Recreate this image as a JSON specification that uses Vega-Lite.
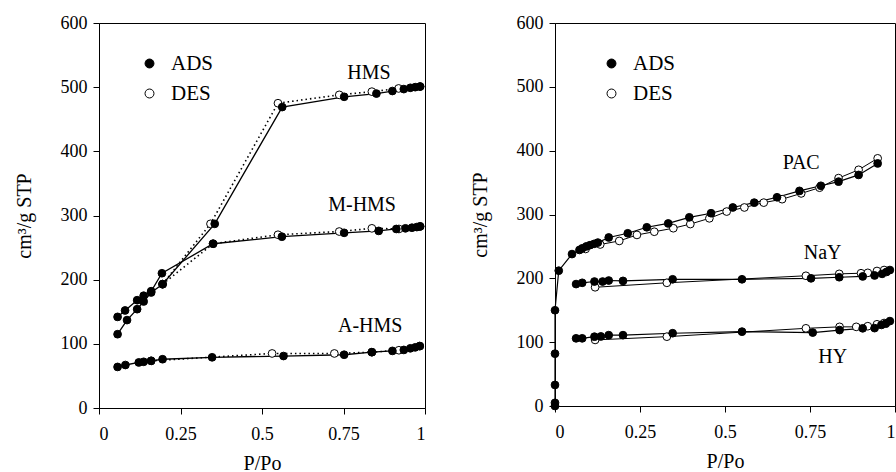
{
  "$schema": "https://vega.github.io/schema/vega-lite/v6.json",
  "background": "white",
  "padding": {"left": 13, "top": 13, "right": 0, "bottom": 0},
  "config": {
    "view": {"stroke": "black", "strokeWidth": 1},
    "axis": {
      "domainColor": "black", "tickColor": "black", "labelColor": "black", "titleColor": "black",
      "grid": false, "tickSize": 6, "labelFontSize": 18, "titleFontSize": 20, "titleFontWeight": "normal"
    },
    "legend": {
      "orient": "none", "legendY": 30, "padding": 0, "rowPadding": 8,
      "labelFontSize": 21, "labelColor": "black", "labelOffset": 11,
      "symbolStrokeColor": "black", "symbolStrokeWidth": 1, "symbolSize": 80, "symbolOpacity": 1, "symbolType": "circle"
    }
  },
  "datasets": {
    "left": [
      {"sample": "HMS", "run": "ADS", "P": 0.057, "V": 115}, {"sample": "HMS", "run": "ADS", "P": 0.086, "V": 137},
      {"sample": "HMS", "run": "ADS", "P": 0.117, "V": 154}, {"sample": "HMS", "run": "ADS", "P": 0.137, "V": 166},
      {"sample": "HMS", "run": "ADS", "P": 0.16, "V": 180}, {"sample": "HMS", "run": "ADS", "P": 0.195, "V": 193},
      {"sample": "HMS", "run": "ADS", "P": 0.355, "V": 287}, {"sample": "HMS", "run": "ADS", "P": 0.562, "V": 469},
      {"sample": "HMS", "run": "ADS", "P": 0.752, "V": 485}, {"sample": "HMS", "run": "ADS", "P": 0.851, "V": 490},
      {"sample": "HMS", "run": "ADS", "P": 0.9, "V": 494}, {"sample": "HMS", "run": "ADS", "P": 0.935, "V": 497},
      {"sample": "HMS", "run": "ADS", "P": 0.955, "V": 499}, {"sample": "HMS", "run": "ADS", "P": 0.97, "V": 500},
      {"sample": "HMS", "run": "ADS", "P": 0.985, "V": 501},
      {"sample": "M-HMS", "run": "ADS", "P": 0.057, "V": 142}, {"sample": "M-HMS", "run": "ADS", "P": 0.08, "V": 152},
      {"sample": "M-HMS", "run": "ADS", "P": 0.117, "V": 168}, {"sample": "M-HMS", "run": "ADS", "P": 0.137, "V": 175},
      {"sample": "M-HMS", "run": "ADS", "P": 0.16, "V": 182}, {"sample": "M-HMS", "run": "ADS", "P": 0.193, "V": 210},
      {"sample": "M-HMS", "run": "ADS", "P": 0.35, "V": 256}, {"sample": "M-HMS", "run": "ADS", "P": 0.561, "V": 267},
      {"sample": "M-HMS", "run": "ADS", "P": 0.752, "V": 273}, {"sample": "M-HMS", "run": "ADS", "P": 0.858, "V": 276},
      {"sample": "M-HMS", "run": "ADS", "P": 0.912, "V": 279}, {"sample": "M-HMS", "run": "ADS", "P": 0.94, "V": 280},
      {"sample": "M-HMS", "run": "ADS", "P": 0.96, "V": 281}, {"sample": "M-HMS", "run": "ADS", "P": 0.975, "V": 282},
      {"sample": "M-HMS", "run": "ADS", "P": 0.985, "V": 283},
      {"sample": "A-HMS", "run": "ADS", "P": 0.057, "V": 64}, {"sample": "A-HMS", "run": "ADS", "P": 0.081, "V": 67},
      {"sample": "A-HMS", "run": "ADS", "P": 0.122, "V": 71}, {"sample": "A-HMS", "run": "ADS", "P": 0.137, "V": 72},
      {"sample": "A-HMS", "run": "ADS", "P": 0.16, "V": 73.5}, {"sample": "A-HMS", "run": "ADS", "P": 0.195, "V": 76},
      {"sample": "A-HMS", "run": "ADS", "P": 0.347, "V": 79}, {"sample": "A-HMS", "run": "ADS", "P": 0.566, "V": 81},
      {"sample": "A-HMS", "run": "ADS", "P": 0.752, "V": 83}, {"sample": "A-HMS", "run": "ADS", "P": 0.837, "V": 87},
      {"sample": "A-HMS", "run": "ADS", "P": 0.9, "V": 89}, {"sample": "A-HMS", "run": "ADS", "P": 0.935, "V": 90.5},
      {"sample": "A-HMS", "run": "ADS", "P": 0.955, "V": 93}, {"sample": "A-HMS", "run": "ADS", "P": 0.97, "V": 94.5},
      {"sample": "A-HMS", "run": "ADS", "P": 0.984, "V": 96.5},
      {"sample": "HMS", "run": "DES", "P": 0.985, "V": 501}, {"sample": "HMS", "run": "DES", "P": 0.919, "V": 498},
      {"sample": "HMS", "run": "DES", "P": 0.837, "V": 493}, {"sample": "HMS", "run": "DES", "P": 0.737, "V": 488},
      {"sample": "HMS", "run": "DES", "P": 0.549, "V": 475}, {"sample": "HMS", "run": "DES", "P": 0.342, "V": 287},
      {"sample": "HMS", "run": "DES", "P": 0.195, "V": 193},
      {"sample": "M-HMS", "run": "DES", "P": 0.985, "V": 283}, {"sample": "M-HMS", "run": "DES", "P": 0.92, "V": 279},
      {"sample": "M-HMS", "run": "DES", "P": 0.837, "V": 280}, {"sample": "M-HMS", "run": "DES", "P": 0.737, "V": 275},
      {"sample": "M-HMS", "run": "DES", "P": 0.549, "V": 270}, {"sample": "M-HMS", "run": "DES", "P": 0.35, "V": 256},
      {"sample": "M-HMS", "run": "DES", "P": 0.195, "V": 193},
      {"sample": "A-HMS", "run": "DES", "P": 0.984, "V": 96.5}, {"sample": "A-HMS", "run": "DES", "P": 0.92, "V": 90},
      {"sample": "A-HMS", "run": "DES", "P": 0.837, "V": 87}, {"sample": "A-HMS", "run": "DES", "P": 0.722, "V": 85},
      {"sample": "A-HMS", "run": "DES", "P": 0.531, "V": 85}, {"sample": "A-HMS", "run": "DES", "P": 0.16, "V": 73.5}
    ],
    "right": [
      {"sample": "PAC", "run": "ADS", "P": 0, "V": 0}, {"sample": "PAC", "run": "ADS", "P": 0, "V": 5},
      {"sample": "PAC", "run": "ADS", "P": 0, "V": 33}, {"sample": "PAC", "run": "ADS", "P": 0, "V": 82},
      {"sample": "PAC", "run": "ADS", "P": 0, "V": 150}, {"sample": "PAC", "run": "ADS", "P": 0.011, "V": 212},
      {"sample": "PAC", "run": "ADS", "P": 0.05, "V": 238}, {"sample": "PAC", "run": "ADS", "P": 0.072, "V": 244.5},
      {"sample": "PAC", "run": "ADS", "P": 0.08, "V": 247}, {"sample": "PAC", "run": "ADS", "P": 0.092, "V": 250},
      {"sample": "PAC", "run": "ADS", "P": 0.103, "V": 252}, {"sample": "PAC", "run": "ADS", "P": 0.115, "V": 254},
      {"sample": "PAC", "run": "ADS", "P": 0.126, "V": 256}, {"sample": "PAC", "run": "ADS", "P": 0.158, "V": 264},
      {"sample": "PAC", "run": "ADS", "P": 0.214, "V": 270.6}, {"sample": "PAC", "run": "ADS", "P": 0.27, "V": 280},
      {"sample": "PAC", "run": "ADS", "P": 0.333, "V": 286}, {"sample": "PAC", "run": "ADS", "P": 0.395, "V": 295.6},
      {"sample": "PAC", "run": "ADS", "P": 0.459, "V": 302}, {"sample": "PAC", "run": "ADS", "P": 0.523, "V": 311},
      {"sample": "PAC", "run": "ADS", "P": 0.586, "V": 318.6}, {"sample": "PAC", "run": "ADS", "P": 0.653, "V": 327},
      {"sample": "PAC", "run": "ADS", "P": 0.719, "V": 337}, {"sample": "PAC", "run": "ADS", "P": 0.782, "V": 345},
      {"sample": "PAC", "run": "ADS", "P": 0.834, "V": 351.5}, {"sample": "PAC", "run": "ADS", "P": 0.893, "V": 362},
      {"sample": "PAC", "run": "ADS", "P": 0.949, "V": 380},
      {"sample": "NaY", "run": "ADS", "P": 0.062, "V": 191}, {"sample": "NaY", "run": "ADS", "P": 0.08, "V": 193},
      {"sample": "NaY", "run": "ADS", "P": 0.116, "V": 195}, {"sample": "NaY", "run": "ADS", "P": 0.14, "V": 195},
      {"sample": "NaY", "run": "ADS", "P": 0.158, "V": 196.6}, {"sample": "NaY", "run": "ADS", "P": 0.2, "V": 196},
      {"sample": "NaY", "run": "ADS", "P": 0.346, "V": 198.5}, {"sample": "NaY", "run": "ADS", "P": 0.55, "V": 198.5},
      {"sample": "NaY", "run": "ADS", "P": 0.753, "V": 200}, {"sample": "NaY", "run": "ADS", "P": 0.836, "V": 201.7},
      {"sample": "NaY", "run": "ADS", "P": 0.905, "V": 203}, {"sample": "NaY", "run": "ADS", "P": 0.94, "V": 204.5},
      {"sample": "NaY", "run": "ADS", "P": 0.962, "V": 207}, {"sample": "NaY", "run": "ADS", "P": 0.975, "V": 210},
      {"sample": "NaY", "run": "ADS", "P": 0.985, "V": 213},
      {"sample": "HY", "run": "ADS", "P": 0.062, "V": 106}, {"sample": "HY", "run": "ADS", "P": 0.08, "V": 106},
      {"sample": "HY", "run": "ADS", "P": 0.116, "V": 108.6}, {"sample": "HY", "run": "ADS", "P": 0.135, "V": 109},
      {"sample": "HY", "run": "ADS", "P": 0.158, "V": 111}, {"sample": "HY", "run": "ADS", "P": 0.2, "V": 111},
      {"sample": "HY", "run": "ADS", "P": 0.346, "V": 114}, {"sample": "HY", "run": "ADS", "P": 0.55, "V": 116.5},
      {"sample": "HY", "run": "ADS", "P": 0.758, "V": 115}, {"sample": "HY", "run": "ADS", "P": 0.837, "V": 119},
      {"sample": "HY", "run": "ADS", "P": 0.905, "V": 121.7}, {"sample": "HY", "run": "ADS", "P": 0.94, "V": 122},
      {"sample": "HY", "run": "ADS", "P": 0.96, "V": 127}, {"sample": "HY", "run": "ADS", "P": 0.973, "V": 129},
      {"sample": "HY", "run": "ADS", "P": 0.985, "V": 133},
      {"sample": "PAC", "run": "DES", "P": 0.949, "V": 388}, {"sample": "PAC", "run": "DES", "P": 0.893, "V": 370},
      {"sample": "PAC", "run": "DES", "P": 0.834, "V": 357}, {"sample": "PAC", "run": "DES", "P": 0.778, "V": 342},
      {"sample": "PAC", "run": "DES", "P": 0.724, "V": 333}, {"sample": "PAC", "run": "DES", "P": 0.668, "V": 324},
      {"sample": "PAC", "run": "DES", "P": 0.614, "V": 318.6}, {"sample": "PAC", "run": "DES", "P": 0.557, "V": 311},
      {"sample": "PAC", "run": "DES", "P": 0.505, "V": 304.6}, {"sample": "PAC", "run": "DES", "P": 0.454, "V": 294},
      {"sample": "PAC", "run": "DES", "P": 0.398, "V": 285}, {"sample": "PAC", "run": "DES", "P": 0.348, "V": 278.5},
      {"sample": "PAC", "run": "DES", "P": 0.292, "V": 273}, {"sample": "PAC", "run": "DES", "P": 0.241, "V": 268},
      {"sample": "PAC", "run": "DES", "P": 0.189, "V": 258.6}, {"sample": "PAC", "run": "DES", "P": 0.133, "V": 253},
      {"sample": "PAC", "run": "DES", "P": 0.09, "V": 246},
      {"sample": "NaY", "run": "DES", "P": 0.118, "V": 186}, {"sample": "NaY", "run": "DES", "P": 0.329, "V": 193},
      {"sample": "NaY", "run": "DES", "P": 0.738, "V": 204}, {"sample": "NaY", "run": "DES", "P": 0.836, "V": 207},
      {"sample": "NaY", "run": "DES", "P": 0.9, "V": 208}, {"sample": "NaY", "run": "DES", "P": 0.92, "V": 208.6},
      {"sample": "NaY", "run": "DES", "P": 0.947, "V": 211.5}, {"sample": "NaY", "run": "DES", "P": 0.968, "V": 213},
      {"sample": "HY", "run": "DES", "P": 0.118, "V": 103.5}, {"sample": "HY", "run": "DES", "P": 0.329, "V": 108.6},
      {"sample": "HY", "run": "DES", "P": 0.738, "V": 121.7}, {"sample": "HY", "run": "DES", "P": 0.837, "V": 124},
      {"sample": "HY", "run": "DES", "P": 0.886, "V": 124}, {"sample": "HY", "run": "DES", "P": 0.92, "V": 125},
      {"sample": "HY", "run": "DES", "P": 0.947, "V": 128}, {"sample": "HY", "run": "DES", "P": 0.968, "V": 130}
    ],
    "leftLabels": [
      {"label": "HMS", "P": 0.828, "V": 522},
      {"label": "M-HMS", "P": 0.807, "V": 316},
      {"label": "A-HMS", "P": 0.832, "V": 128}
    ],
    "rightLabels": [
      {"label": "PAC", "P": 0.724, "V": 381},
      {"label": "NaY", "P": 0.787, "V": 240},
      {"label": "HY", "P": 0.817, "V": 77}
    ]
  },
  "spacing": 42,
  "resolve": {"legend": {"fill": "independent"}},
  "hconcat": [
    {
      "width": 326, "height": 385,
      "encoding": {
        "x": {"field": "P", "type": "quantitative", "scale": {"domain": [0, 1], "nice": false},
              "axis": {"values": [0, 0.25, 0.5, 0.75, 1], "labelExpr": "'' + datum.value", "title": "P/Po", "labelPadding": 11, "titlePadding": 10,
                       "labelFont": "Liberation Serif", "titleFont": "Liberation Serif"}},
        "y": {"field": "V", "type": "quantitative", "scale": {"domain": [0, 600], "nice": false},
              "axis": {"values": [0, 100, 200, 300, 400, 500, 600], "title": "cm³/g STP", "labelPadding": 6, "titlePadding": 26,
                       "labelFont": "Liberation Serif", "titleFont": "Liberation Serif"}}
      },
      "layer": [
        {"data": {"name": "left"}, "transform": [{"filter": "datum.run === 'DES'"}],
         "mark": {"type": "line", "color": "black", "strokeWidth": 1.6, "strokeDash": [1.5, 3]},
         "encoding": {"detail": {"field": "sample"}, "order": {"field": "P"}}},
        {"data": {"name": "left"}, "transform": [{"filter": "datum.run === 'ADS'"}],
         "mark": {"type": "line", "color": "black", "strokeWidth": 1.3},
         "encoding": {"detail": {"field": "sample"}, "order": {"field": "P"}}},
        {"data": {"name": "left"},
         "mark": {"type": "point", "shape": "circle", "filled": true, "stroke": "black", "strokeWidth": 1, "opacity": 1, "size": 60},
         "encoding": {
           "fill": {"field": "run", "type": "nominal", "scale": {"domain": ["ADS", "DES"], "range": ["black", "white"]},
                    "legend": {"title": null, "labelFont": "Liberation Serif", "legendX": 40}},
           "order": {"field": "run", "sort": "descending"}
         }},
        {"data": {"name": "leftLabels"},
         "mark": {"type": "text", "font": "Liberation Serif", "fontSize": 20, "color": "black"},
         "encoding": {"text": {"field": "label"}}}
      ]
    },
    {
      "width": 340, "height": 383,
      "encoding": {
        "x": {"field": "P", "type": "quantitative", "scale": {"domain": [0, 1], "nice": false},
              "axis": {"values": [0, 0.25, 0.5, 0.75, 1], "labelExpr": "'' + datum.value", "title": "P/Po", "labelPadding": 11, "titlePadding": 10,
                       "labelFont": "Liberation Serif", "titleFont": "Liberation Serif"}},
        "y": {"field": "V", "type": "quantitative", "scale": {"domain": [0, 600], "nice": false},
              "axis": {"values": [0, 100, 200, 300, 400, 500, 600], "title": "cm³/g STP", "labelPadding": 6, "titlePadding": 26,
                       "labelFont": "Liberation Serif", "titleFont": "Liberation Serif"}}
      },
      "layer": [
        {"data": {"name": "right"}, "transform": [{"filter": "datum.run === 'DES'"}],
         "mark": {"type": "line", "color": "black", "strokeWidth": 1},
         "encoding": {"detail": {"field": "sample"}, "order": {"field": "P"}}},
        {"data": {"name": "right"}, "transform": [{"filter": "datum.run === 'ADS'"}],
         "mark": {"type": "line", "color": "black", "strokeWidth": 1.2},
         "encoding": {"detail": {"field": "sample"}, "order": [{"field": "P"}, {"field": "V"}]}},
        {"data": {"name": "right"},
         "mark": {"type": "point", "shape": "circle", "filled": true, "stroke": "black", "strokeWidth": 1, "opacity": 1, "size": 60},
         "encoding": {
           "fill": {"field": "run", "type": "nominal", "scale": {"domain": ["ADS", "DES"], "range": ["black", "white"]},
                    "legend": {"title": null, "labelFont": "Liberation Serif", "legendX": 46}},
           "order": {"field": "run", "sort": "descending"}
         }},
        {"data": {"name": "rightLabels"},
         "mark": {"type": "text", "font": "Liberation Serif", "fontSize": 20, "color": "black"},
         "encoding": {"text": {"field": "label"}}}
      ]
    }
  ]
}
